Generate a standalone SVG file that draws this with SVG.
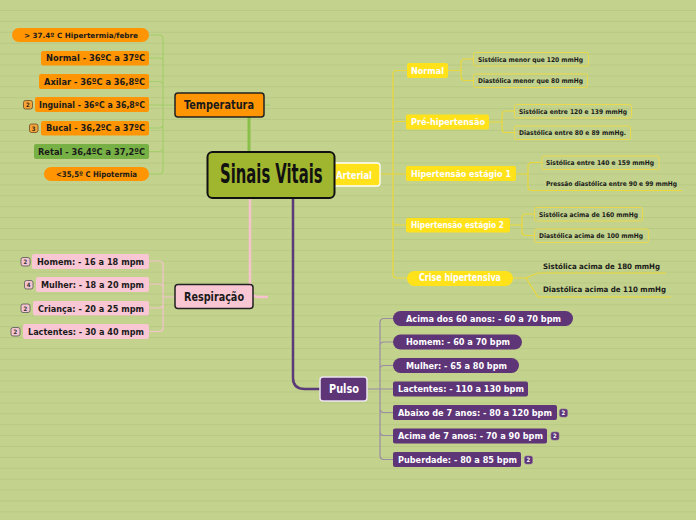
<svg xmlns="http://www.w3.org/2000/svg" width="696" height="520" viewBox="0 0 696 520">
<defs>
<pattern id="bg" width="696" height="10.9" patternUnits="userSpaceOnUse" y="10">
<rect width="696" height="10.9" fill="#C3D28C"/>
<rect width="696" height="1" fill="#B8C983"/>
</pattern>
</defs>
<style>
text{font-family:"DejaVu Sans Condensed","DejaVu Sans",sans-serif;font-weight:bold}
.t9{font-size:9px;fill:#1a1a1a}
.w9{font-size:9px;fill:#ffffff}
.g{font-size:6.5px;fill:#1a1a1a}
.m{font-size:12px;fill:#1a1a1a}
.bd{font-size:6px;text-anchor:middle}
.or{fill:#FF9503}
.pk{fill:#F9C6D3}
.pu{fill:#5E3577}
.ye{fill:#FFE21A}
.gb{fill:none;stroke:#EAD94C;stroke-width:1}
.cg{fill:none;stroke:#A4CE6C;stroke-width:1.2}
.cp{fill:none;stroke:#F3C3CE;stroke-width:1.2}
.cu{fill:none;stroke:#9A8BA6;stroke-width:1.2}
.cy{fill:none;stroke:#EBD83C;stroke-width:1.2}
.nb{stroke:#222;stroke-width:1.5}
</style>
<rect width="696" height="520" fill="url(#bg)"/>

<g id="connectors">
<path d="M249,117 V152" fill="none" stroke="#88C04A" stroke-width="3"/>
<path d="M264,105 H270" class="cg"/>
<path d="M250,198 V289 Q250,297 260,297 H268" fill="none" stroke="#F6C2CE" stroke-width="2.5"/>
<path d="M293,198 V378 Q293,389 305,389 H320" fill="none" stroke="#5A3A78" stroke-width="2.5"/>
<path d="M175,105 H163 M163,105 V39 Q163,35 159,35 H149 M163,105 V62 Q163,58 159,58 H149 M163,105 V85.5 Q163,81.5 159,81.5 H149 M163,105 H149 M163,105 V124 Q163,128 159,128 H149 M163,105 V147.5 Q163,151.5 159,151.5 H149 M163,105 V170 Q163,174 159,174 H149" class="cg"/>
<path d="M175,297 H163 M163,297 V265 Q163,261 159,261 H149 M163,297 V288 Q163,284 159,284 H149 M163,297 V304 Q163,308 159,308 H149 M163,297 V327.5 Q163,331.5 159,331.5 H149" class="cp"/>
<path d="M367,389 H380 M380,389 V322.5 Q380,318.5 384,318.5 H393 M380,389 V346 Q380,342 384,342 H393 M380,389 V369.5 Q380,365.5 384,365.5 H393 M380,389 H393 M380,389 V408.5 Q380,412.5 384,412.5 H393 M380,389 V431.5 Q380,435.5 384,435.5 H393 M380,389 V455.5 Q380,459.5 384,459.5 H393" class="cu"/>
<path d="M380,174 H393 M393,174 V74.5 Q393,70.5 397,70.5 H407 M393,174 V125.5 Q393,121.5 397,121.5 H406 M393,174 H406 M393,174 V221 Q393,225 397,225 H406 M393,174 V274 Q393,278 397,278 H407" class="cy"/>
<path d="M448,70.5 H461 M461,70.5 V63 Q461,59 465,59 H473 M461,70.5 V76.5 Q461,80.5 465,80.5 H473" class="cy"/>
<path d="M489,122 H502 M502,122 V115 Q502,111 506,111 H514 M502,122 V128.5 Q502,132.5 506,132.5 H514" class="cy"/>
<path d="M516,174 H528 M528,174 V166.5 Q528,162.5 532,162.5 H542 M528,174 V186.5 Q528,190.5 532,190.5 H682" class="cy"/>
<path d="M510,225 H522 M522,225 V218 Q522,214 526,214 H534 M522,225 V231.5 Q522,235.5 526,235.5 H534" class="cy"/>
<path d="M513,278 H526 L538,273 H666 M526,278 L538,297 H671" class="cy"/>
</g>

<g id="n-arterial">
<rect x="282" y="163" width="98" height="23" rx="3" class="ye" stroke="#ffffff" stroke-width="1.3"/>
<text x="336" y="178.5" style="font-size:11px;fill:#fff" textLength="36" lengthAdjust="spacingAndGlyphs">Arterial</text>
</g>

<g id="n-center">
<rect x="207.5" y="152" width="127" height="46" rx="5" fill="#A0B62E" stroke="#111" stroke-width="2"/>
<text transform="translate(220,183) scale(0.6,1)" x="0" y="0" style="font-size:27px;fill:#111" textLength="171" lengthAdjust="spacingAndGlyphs">Sinais Vitais</text>
</g>

<g id="n-temperatura">
<rect x="175" y="93" width="89" height="24" rx="3" class="or nb"/>
<text x="184" y="109" class="m" textLength="70" lengthAdjust="spacingAndGlyphs">Temperatura</text>
</g>
<g id="t1"><rect x="12" y="28" width="137" height="14" rx="7" class="or"/><text x="24" y="37.5" class="t9" style="font-size:7.2px" textLength="114" lengthAdjust="spacingAndGlyphs">&gt; 37.4º C Hipertermia/febre</text></g>
<g id="t2"><rect x="41" y="51" width="108" height="14.5" rx="2" class="or"/><text x="46" y="61" class="t9" textLength="99" lengthAdjust="spacingAndGlyphs">Normal - 36ºC a 37ºC</text></g>
<g id="t3"><rect x="39" y="74" width="110" height="15" rx="2" class="or"/><text x="44" y="84.7" class="t9" textLength="101" lengthAdjust="spacingAndGlyphs">Axilar - 36ºC a 36,8ºC</text></g>
<g id="t4"><rect x="35" y="97" width="114" height="15" rx="2" class="or"/><text x="39" y="107.7" class="t9" style="font-size:8px" textLength="106" lengthAdjust="spacingAndGlyphs">Inguinal - 36ºC a 36,8ºC</text>
<rect x="23.5" y="100.5" width="9" height="8.5" rx="2" fill="#F5A53A" stroke="#6B4A20" stroke-width="0.8"/><text x="28" y="107" class="bd" fill="#3a2a10">2</text></g>
<g id="t5"><rect x="41" y="121" width="108" height="14.5" rx="2" class="or"/><text x="46" y="131" class="t9" textLength="99" lengthAdjust="spacingAndGlyphs">Bucal - 36,2ºC a 37ºC</text>
<rect x="29.5" y="124" width="8.5" height="8.5" rx="2" fill="#F5A53A" stroke="#6B4A20" stroke-width="0.8"/><text x="33.7" y="130.5" class="bd" fill="#3a2a10">3</text></g>
<g id="t6"><rect x="34" y="144" width="115" height="15" rx="2" fill="#77B146"/><text x="38" y="154.7" class="t9" textLength="107" lengthAdjust="spacingAndGlyphs">Retal - 36,4ºC a 37,2ºC</text></g>
<g id="t7"><rect x="44" y="167" width="105" height="14" rx="7" class="or"/><text x="56" y="176.7" class="t9" style="font-size:7.8px" textLength="81" lengthAdjust="spacingAndGlyphs">&lt;35,5º C Hipotermia</text></g>

<g id="n-respiracao">
<rect x="175" y="284.5" width="78" height="24" rx="3" class="pk nb"/>
<text x="184" y="300.5" class="m" textLength="60" lengthAdjust="spacingAndGlyphs">Respiração</text>
</g>
<g id="r1"><rect x="32" y="254" width="117" height="15" rx="2" class="pk"/><text x="37" y="265" class="t9" textLength="107" lengthAdjust="spacingAndGlyphs">Homem: - 16 a 18 mpm</text>
<rect x="21" y="257.5" width="9" height="8.5" rx="2" fill="#F4C4CF" stroke="#555" stroke-width="0.8"/><text x="25.5" y="264" class="bd" fill="#333">2</text></g>
<g id="r2"><rect x="36" y="277" width="113" height="15" rx="2" class="pk"/><text x="41" y="288" class="t9" textLength="103" lengthAdjust="spacingAndGlyphs">Mulher: - 18 a 20 mpm</text>
<rect x="24.5" y="280.5" width="8.5" height="8.5" rx="2" fill="#F4C4CF" stroke="#555" stroke-width="0.8"/><text x="28.7" y="287" class="bd" fill="#333">4</text></g>
<g id="r3"><rect x="33" y="301" width="116" height="14.5" rx="2" class="pk"/><text x="38" y="311.5" class="t9" textLength="106" lengthAdjust="spacingAndGlyphs">Criança: - 20 a 25 mpm</text>
<rect x="21" y="304" width="9" height="8.5" rx="2" fill="#F4C4CF" stroke="#555" stroke-width="0.8"/><text x="25.5" y="310.5" class="bd" fill="#333">2</text></g>
<g id="r4"><rect x="23" y="324" width="126" height="15" rx="2" class="pk"/><text x="28" y="335" class="t9" textLength="116" lengthAdjust="spacingAndGlyphs">Lactentes: - 30 a 40 mpm</text>
<rect x="11" y="327.5" width="9" height="8.5" rx="2" fill="#F4C4CF" stroke="#555" stroke-width="0.8"/><text x="15.5" y="334" class="bd" fill="#333">2</text></g>

<g id="n-pulso">
<rect x="320" y="377" width="47" height="24" rx="3" class="pu" stroke="#ECE4F0" stroke-width="1.5"/>
<text x="329" y="393" class="m" style="fill:#fff" textLength="30" lengthAdjust="spacingAndGlyphs">Pulso</text>
</g>
<g id="p1"><rect x="393" y="311" width="180" height="15" rx="7.5" class="pu"/><text x="406" y="322" class="w9" textLength="155" lengthAdjust="spacingAndGlyphs">Acima dos 60 anos: - 60 a 70 bpm</text></g>
<g id="p2"><rect x="393" y="334.5" width="129" height="15" rx="7.5" class="pu"/><text x="406" y="345.3" class="w9" textLength="104" lengthAdjust="spacingAndGlyphs">Homem: - 60 a 70 bpm</text></g>
<g id="p3"><rect x="393" y="358" width="126" height="15" rx="7.5" class="pu"/><text x="406" y="368.8" class="w9" textLength="101" lengthAdjust="spacingAndGlyphs">Mulher: - 65 a 80 bpm</text></g>
<g id="p4"><rect x="393" y="381.5" width="135" height="15" rx="2" class="pu"/><text x="398" y="392.3" class="w9" textLength="126" lengthAdjust="spacingAndGlyphs">Lactentes: - 110 a 130 bpm</text></g>
<g id="p5"><rect x="393" y="405" width="164" height="15" rx="2" class="pu"/><text x="398" y="415.8" class="w9" textLength="154" lengthAdjust="spacingAndGlyphs">Abaixo de 7 anos: - 80 a 120 bpm</text>
<rect x="559.5" y="409" width="8" height="8" rx="2" class="pu" stroke="#8a6aa0" stroke-width="0.6"/><text x="563.5" y="415.2" class="bd" fill="#fff">2</text></g>
<g id="p6"><rect x="393" y="428.5" width="154" height="15" rx="2" class="pu"/><text x="398" y="439.3" class="w9" textLength="145" lengthAdjust="spacingAndGlyphs">Acima de 7 anos: - 70 a 90 bpm</text>
<rect x="551" y="432" width="8" height="8" rx="2" class="pu" stroke="#8a6aa0" stroke-width="0.6"/><text x="555" y="438.2" class="bd" fill="#fff">2</text></g>
<g id="p7"><rect x="393" y="452" width="128" height="15" rx="2" class="pu"/><text x="398" y="462.8" class="w9" textLength="119" lengthAdjust="spacingAndGlyphs">Puberdade: - 80 a 85 bpm</text>
<rect x="524.5" y="456" width="8" height="8" rx="2" class="pu" stroke="#8a6aa0" stroke-width="0.6"/><text x="528.5" y="462.2" class="bd" fill="#fff">2</text></g>

<g id="a-normal"><rect x="407" y="63" width="41" height="15" rx="2" class="ye"/><text x="411" y="73.5" class="w9" style="font-size:9.5px" textLength="33" lengthAdjust="spacingAndGlyphs">Normal</text></g>
<g id="a-n1"><rect x="473.5" y="52.5" width="115" height="13.5" rx="2" class="gb"/><text x="478" y="61.7" class="g" textLength="105" lengthAdjust="spacingAndGlyphs">Sistólica menor que 120 mmHg</text></g>
<g id="a-n2"><rect x="473.5" y="74" width="114" height="13.5" rx="2" class="gb"/><text x="478" y="83" class="g" textLength="105" lengthAdjust="spacingAndGlyphs">Diastólica menor que 80 mmHg</text></g>

<g id="a-pre"><rect x="406" y="114.5" width="83" height="15" rx="2" class="ye"/><text x="411" y="125.2" class="w9" style="font-size:9.5px" textLength="74" lengthAdjust="spacingAndGlyphs">Pré-hipertensão</text></g>
<g id="a-p1"><rect x="514.5" y="104.5" width="117" height="13.5" rx="2" class="gb"/><text x="519" y="113.5" class="g" textLength="108" lengthAdjust="spacingAndGlyphs">Sistólica entre 120 e 139 mmHg</text></g>
<g id="a-p2"><rect x="514.5" y="126" width="116" height="13.5" rx="2" class="gb"/><text x="519" y="135" class="g" textLength="107" lengthAdjust="spacingAndGlyphs">Diastólica entre 80 e 89 mmHg.</text></g>

<g id="a-h1"><rect x="406" y="166" width="110" height="15" rx="2" class="ye"/><text x="411" y="176.8" class="w9" style="font-size:9.5px" textLength="100" lengthAdjust="spacingAndGlyphs">Hipertensão estágio 1</text></g>
<g id="a-h1a"><rect x="542" y="156" width="117" height="13.5" rx="2" class="gb"/><text x="546" y="165.2" class="g" textLength="108" lengthAdjust="spacingAndGlyphs">Sistólica entre 140 e 159 mmHg</text></g>
<g id="a-h1b"><text x="546" y="186.2" class="g" textLength="131" lengthAdjust="spacingAndGlyphs">Pressão diastólica entre 90 e 99 mmHg</text></g>

<g id="a-h2"><rect x="406" y="218" width="104" height="14.5" rx="2" class="ye"/><text x="411" y="228.3" class="w9" style="font-size:9px" textLength="93" lengthAdjust="spacingAndGlyphs">Hipertensão estágio 2</text></g>
<g id="a-h2a"><rect x="534.5" y="207.5" width="108" height="13.5" rx="2" class="gb"/><text x="539" y="216.5" class="g" textLength="99" lengthAdjust="spacingAndGlyphs">Sistólica acima de 160 mmHg</text></g>
<g id="a-h2b"><rect x="534.5" y="229" width="114" height="13.5" rx="2" class="gb"/><text x="539" y="238.2" class="g" textLength="104" lengthAdjust="spacingAndGlyphs">Diastólica acima de 100 mmHg</text></g>

<g id="a-crise"><rect x="407" y="271" width="106" height="15" rx="7.5" class="ye"/><text x="419" y="281" class="w9" style="font-size:10px" textLength="82" lengthAdjust="spacingAndGlyphs">Crise hipertensiva</text></g>
<g id="a-c1"><text x="543" y="269.2" class="g" style="font-size:7.5px" textLength="117" lengthAdjust="spacingAndGlyphs">Sistólica acima de 180 mmHg</text></g>
<g id="a-c2"><text x="543" y="292" class="g" style="font-size:7.5px" textLength="123" lengthAdjust="spacingAndGlyphs">Diastólica acima de 110 mmHg</text></g>
</svg>
